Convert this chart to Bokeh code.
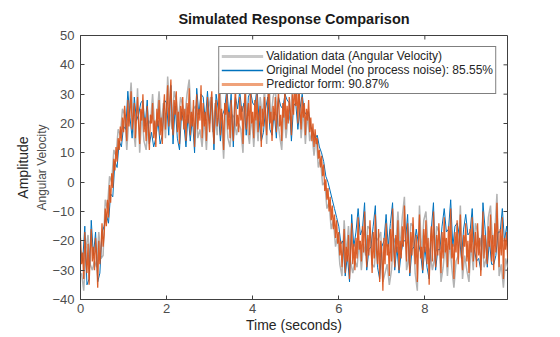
import numpy as np
from bokeh.plotting import figure
from bokeh.models import Range1d, FixedTicker, Title, Legend, LegendItem, ColumnDataSource
from bokeh.embed import file_html
from bokeh.resources import INLINE

DT_COARSE = 0.05
DT_FINE = 0.025
# measured data, sampled between predictor samples
validation = [
    -31, -37, -23, -18, -28, -30, -27, -29, -17, -26,
    -25, -6, -9, 2, 0, 11, 9, 18, 16, 25,
    23, 11, 22, 34, 19, 12, 32, 10, 24, 14,
    11, 21, 20, 30, 18, 22, 31, 19, 27, 15,
    36, 24, 18, 31, 28, 21, 29, 26, 22, 30,
    35, 21, 25, 26, 15, 18, 12, 22, 11, 25,
    29, 17, 27, 16, 36, 22, 8, 26, 15, 12,
    23, 22, 16, 20, 18, 10, 34, 19, 13, 23,
    12, 24, 14, 29, 22, 32, 13, 36, 21, 29,
    32, 22, 16, 11, 25, 15, 23, 21, 33, 31,
    34, 30, 15, 25, 13, 24, 14, 17, 9, 16,
    5, 8, -1, 0, -9, -7, -16, -13, -22, -18,
    -28, -32, -13, -25, -15, -27, -31, -27, -29, -20,
    -30, -21, -25, -15, -16, -28, -29, -20, -19, -17,
    -34, -31, -28, -35, -30, -19, -21, -10, -23, -12,
    -5, -30, -26, -14, -15, -31, -37, -8, -25, -13,
    -10, -22, -24, -30, -26, -15, -17, -34, -29, -21,
    -32, -20, -29, -36, -27, -25, -8, -33, -25, -30,
    -34, -21, -30, -14, -17, -22, -18, -29, -26, -12,
    -8, -21, -17, -4, -32, -28, -36, -26, -29, -27,
]
original_model = [
    -23, -27, -15, -35, -33, -13, -25, -17, -34, -31,
    -17, -15, -11, -14, -4, -5, 7, 5, 14, 12,
    19, 18, 31, 22, 15, 29, 21, 23, 27, 28,
    19, 28, 13, 17, 12, 15, 21, 13, 16, 28,
    27, 16, 33, 13, 26, 15, 11, 24, 20, 12,
    23, 14, 22, 10, 32, 23, 30, 29, 21, 31,
    20, 29, 11, 30, 25, 14, 23, 25, 32, 22,
    30, 12, 29, 25, 31, 24, 27, 16, 29, 31,
    27, 26, 32, 21, 14, 17, 25, 29, 18, 16,
    24, 15, 29, 26, 25, 30, 28, 27, 14, 26,
    27, 18, 25, 30, 24, 23, 24, 19, 17, 15,
    16, 12, 10, 7, 2, 0, -3, -6, -9, -12,
    -15, -21, -20, -32, -25, -34, -11, -22, -17, -9,
    -18, -16, -7, -30, -23, -22, -15, -8, -29, -33,
    -22, -20, -11, -22, -14, -7, -30, -22, -31, -24,
    -20, -20, -11, -32, -23, -22, -16, -21, -24, -31,
    -22, -29, -33, -16, -7, -30, -23, -23, -15, -9,
    -17, -16, -6, -22, -15, -14, -18, -26, -16, -11,
    -18, -17, -9, -23, -27, -26, -30, -7, -16, -29,
    -20, -28, -28, -25, -17, -17, -9, -20, -15, -22,
]
predictor = [
    -19, -28, -24, -33, -17, -26, -31, -21, -35, -24, -16, -27, -22, -30, -19, -25, -36, -20, -28, -23,
    -14, -22, -18, -9, -15, -6, -12, -1, -7, 3, -2, 8, 4, 12, 7, 15, 11, 19, 14, 22,
    17, 26, 21, 14, 28, 19, 24, 31, 18, 22, 27, 15, 23, 29, 20, 13, 25, 21, 30, 17,
    22, 14, 26, 18, 11, 23, 20, 27, 15, 21, 12, 25, 19, 28, 16, 22, 13, 24, 30, 18,
    25, 33, 19, 27, 35, 21, 16, 28, 23, 31, 17, 24, 13, 26, 21, 29, 18, 25, 14, 27,
    20, 32, 16, 24, 19, 28, 12, 23, 30, 18, 25, 21, 33, 15, 27, 19, 24, 14, 29, 22,
    17, 26, 31, 20, 13, 24, 28, 19, 22, 34, 16, 25, 21, 11, 27, 23, 30, 18, 24, 15,
    28, 20, 14, 25, 32, 19, 23, 17, 29, 21, 26, 13, 24, 31, 18, 22, 27, 16, 33, 20,
    24, 15, 28, 21, 30, 17, 23, 26, 12, 25, 19, 29, 22, 16, 27, 33, 20, 24, 14, 26,
    21, 29, 17, 25, 31, 19, 23, 14, 27, 22, 32, 18, 26, 20, 29, 24, 16, 30, 23, 34,
    26, 31, 20, 33, 24, 18, 29, 22, 27, 16, 25, 21, 28, 17, 22, 14, 20, 12, 18, 13,
    15, 8, 11, 5, 9, 2, 6, -3, 1, -6, -2, -10, -5, -13, -8, -16, -11, -19, -13, -21,
    -17, -25, -20, -29, -23, -16, -31, -22, -27, -18, -33, -24, -14, -28, -21, -30, -19, -26, -12, -23,
    -20, -27, -15, -24, -10, -22, -29, -18, -25, -13, -21, -31, -17, -26, -11, -23, -28, -16, -34, -20,
    -24, -37, -19, -28, -14, -25, -21, -32, -16, -27, -9, -22, -29, -18, -24, -13, -30, -20, -26, -15,
    -22, -8, -19, -27, -14, -23, -31, -17, -25, -12, -21, -28, -18, -34, -20, -11, -26, -22, -30, -16,
    -24, -13, -28, -19, -35, -21, -15, -27, -10, -23, -29, -18, -25, -14, -22, -31, -17, -26, -12, -24,
    -19, -29, -15, -23, -9, -26, -21, -33, -17, -24, -13, -28, -20, -11, -25, -30, -18, -22, -14, -27,
    -20, -31, -16, -24, -12, -27, -22, -17, -29, -14, -25, -19, -32, -21, -10, -26, -18, -23, -28, -15,
    -22, -11, -27, -18, -30, -14, -24, -7, -20, -29, -16, -25, -12, -33, -19, -23, -17, -26, -21, -24,
]
legend_labels = [
    "Validation data (Angular Velocity)",
    "Original Model (no process noise): 85.55%",
    "Predictor form: 90.87%",
]
x_ticks = [0, 2, 4, 6, 8]
y_ticks = [-40, -30, -20, -10, 0, 10, 20, 30, 40, 50]
X_END = 9.92
Y_START, Y_END = -40, 50

FONT = "Liberation Sans"
AX = "#404040"

p = figure(width=560, height=337, output_backend="svg", toolbar_location=None,
           x_range=Range1d(0, X_END), y_range=Range1d(Y_START, Y_END),
           min_border_left=80, min_border_right=53, min_border_top=35, min_border_bottom=38)
p.background_fill_color = "white"
p.border_fill_color = "white"
p.outline_line_color = AX
p.grid.visible = False

p.title.text = "Simulated Response Comparison"
p.title.align = "center"
p.title.text_font = FONT
p.title.text_font_size = "14.5px"
p.title.text_font_style = "bold"
p.title.text_color = "#1a1a1a"
p.title.standoff = 17

xa = p.xaxis[0]
ya = p.yaxis[0]
for ax in (xa, ya):
    ax.axis_line_color = AX
    ax.major_tick_line_color = AX
    ax.minor_tick_line_color = None
    ax.major_tick_in = 4
    ax.major_tick_out = 0
    ax.major_label_text_font = FONT
    ax.major_label_text_font_size = "13px"
    ax.major_label_text_color = "#4d4d4d"
    ax.axis_label_text_font = FONT
    ax.axis_label_text_font_style = "normal"
xa.ticker = FixedTicker(ticks=x_ticks)
ya.ticker = FixedTicker(ticks=y_ticks)
xa.major_label_standoff = 4
ya.major_label_standoff = 6
xa.axis_label = "Time (seconds)"
xa.axis_label_text_font_size = "14px"
xa.axis_label_text_color = "#262626"
xa.axis_label_standoff = 1
ya.axis_label = "Angular Velocity"
ya.axis_label_text_font_size = "12px"
ya.axis_label_text_color = "#4d4d4d"
ya.axis_label_standoff = 0

p.add_layout(Title(text="Amplitude", text_font=FONT, text_font_size="14px",
                   text_font_style="normal", text_color="#262626", align="center",
                   standoff=4), "left")

# box ticks on top and right edges
p.ray(x=x_ticks, y=[Y_END] * len(x_ticks), length=4, length_units="screen",
      angle=-np.pi / 2, line_color=AX, line_width=1)
p.ray(x=[X_END] * len(y_ticks), y=y_ticks, length=4, length_units="screen",
      angle=np.pi, line_color=AX, line_width=1)

t_val = DT_FINE + np.arange(len(validation)) * DT_COARSE
t_org = np.arange(len(original_model)) * DT_COARSE
t_pre = np.arange(len(predictor)) * DT_FINE

p.line(t_val, validation, line_color="#b3b3b3", line_width=1.5)
p.line(t_org, original_model, line_color="#0072BD", line_width=1)
p.line(t_pre, predictor, line_color="#D95319", line_width=1.3, line_alpha=0.92)

# legend proxies (no visible data)
proxy = ColumnDataSource(data=dict(x=np.array([np.nan]), y=np.array([np.nan])))
r1 = p.line("x", "y", source=proxy, line_color="#c8c8c8", line_width=3)
r2 = p.line("x", "y", source=proxy, line_color="#0072BD", line_width=1.5)
r3 = p.line("x", "y", source=proxy, line_color="#EFA27A", line_width=3)
legend = Legend(items=[LegendItem(label=legend_labels[0], renderers=[r1]),
                       LegendItem(label=legend_labels[1], renderers=[r2]),
                       LegendItem(label=legend_labels[2], renderers=[r3])],
                location="top_right")
legend.margin = 11
legend.padding = 2
legend.spacing = 0
legend.label_height = 14
legend.glyph_height = 14
legend.glyph_width = 42
legend.label_standoff = 3
legend.label_text_font = FONT
legend.label_text_font_size = "12px"
legend.label_text_color = "#262626"
legend.border_line_color = "black"
legend.border_line_width = 1
legend.background_fill_color = "white"
legend.background_fill_alpha = 1
p.add_layout(legend, "center")

open("out.html", "w").write(file_html(p, INLINE))
